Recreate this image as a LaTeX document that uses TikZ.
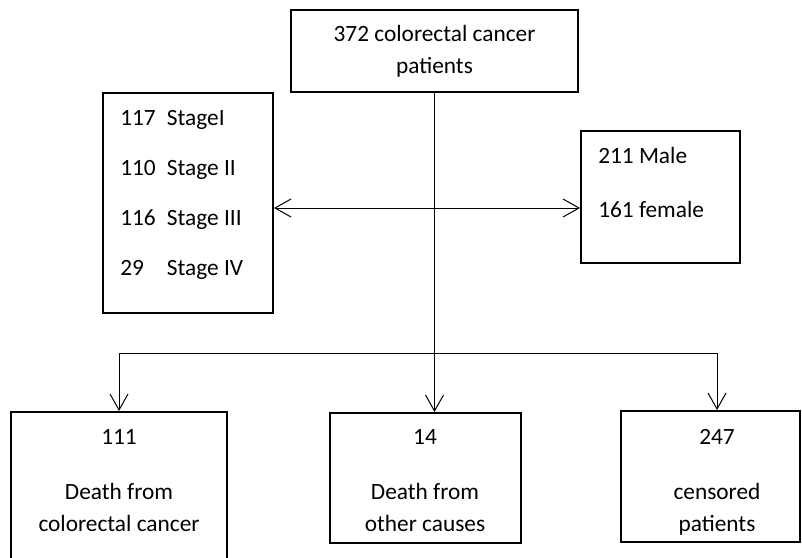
\documentclass[tikz,border=0pt]{standalone}
\usepackage{fontspec}
\setmainfont{Carlito}
\usetikzlibrary{arrows.meta}

\tikzset{
  box/.style={draw,line width=1.5pt,inner sep=0pt},
  txt/.style={inner sep=0pt,font=\fontsize{17.5}{24}\selectfont},
  conn/.style={line width=0.75pt},
}

\begin{document}
\begin{tikzpicture}[x=0.75pt,y=-0.75pt,>={Straight Barb[length=12pt,width=13.5pt]}]
\clip (0,0) rectangle (802,557);

% boxes
\node[box,txt,align=center,minimum width=215.25pt,minimum height=61.5pt] (pat) at (434.5,51) {372 colorectal cancer\\patients};
\node[box,minimum width=127.5pt,minimum height=165pt] (stage) at (188,203) {};
\node[box,minimum width=119.25pt,minimum height=99pt] (gender) at (660.5,197) {};
\node[box,minimum width=162pt,minimum height=112.5pt] (dcrc) at (119,487) {};
\node[box,minimum width=143.25pt,minimum height=97.5pt] (doth) at (425.5,478) {};
\node[box,minimum width=134.6pt,minimum height=98.25pt] (cens) at (710.75,476.5) {};

% texts
\node[txt,anchor=west,align=left] (stagetxt) at (120,195) {\makebox[35pt][l]{117}StageI\\[13.5pt]\makebox[35pt][l]{110}Stage II\\[13.5pt]\makebox[35pt][l]{116}Stage III\\[13.5pt]\makebox[35pt][l]{29}Stage IV};
\node[txt,anchor=west,align=left] (gendertxt) at (598,182) {211 Male\\[16.5pt]161 female};
\node[txt,align=center] (dcrctxt) at (119,481) {111\\[17.25pt]Death from\\colorectal cancer};
\node[txt,align=center] (dothtxt) at (425,481) {14\\[17.25pt]Death from\\other causes};
\node[txt,align=center] (censtxt) at (717,482) {247\\[17.25pt]censored\\patients};

% connectors
\coordinate (cross) at (434.5,208);
\coordinate (fork) at (434.5,353);
\draw[conn,<->] (stage.east |- cross) -- (gender.west |- cross);
\draw[conn,->] (pat.south) -- (pat.south |- doth.north);
\draw[conn,->] (fork) -| (dcrc.north);
\draw[conn,->] (fork) -| ([xshift=4.7pt]cens.north);

\end{tikzpicture}
\end{document}
